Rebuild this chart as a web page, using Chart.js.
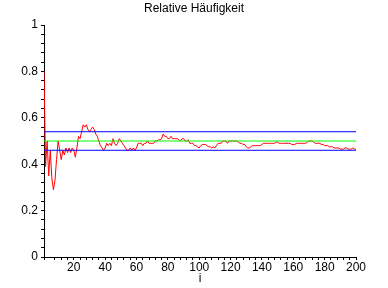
<!DOCTYPE html>
<html lang="de">
<head>
    <meta charset="UTF-8">
    <title>Relative Häufigkeit</title>
    <script src="https://cdn.jsdelivr.net/npm/chart.js"></script>
    <style>
        html, body { margin: 0; padding: 0; background: #fff; }
        #wrap { width: 388px; height: 288px; }
    </style>
</head>
<body>
    <div id="wrap"><canvas id="freq-chart"></canvas></div>
    <script>
        // relative frequency after i trials
        const relFreq = [
            0.80, 0.39, 0.50, 0.35, 0.46, 0.34, 0.29, 0.33, 0.42, 0.50,
            0.46, 0.42, 0.46, 0.44, 0.47, 0.45, 0.47, 0.45, 0.47, 0.46,
            0.43, 0.47, 0.52, 0.51, 0.54, 0.57, 0.56, 0.57, 0.55, 0.54,
            0.55, 0.56, 0.55, 0.53, 0.52, 0.50, 0.48, 0.47, 0.46, 0.47,
            0.49, 0.48, 0.49, 0.48, 0.51, 0.49, 0.48, 0.49, 0.51, 0.50,
            0.49, 0.48, 0.47, 0.46, 0.46, 0.47, 0.46, 0.47, 0.46, 0.47,
            0.49, 0.49, 0.49, 0.48, 0.49, 0.49, 0.50, 0.49, 0.49, 0.49,
            0.49, 0.50, 0.50, 0.505, 0.505, 0.51, 0.53, 0.52, 0.52, 0.51,
            0.51, 0.52, 0.51, 0.51, 0.51, 0.51, 0.505, 0.50, 0.51, 0.51,
            0.50, 0.50, 0.505, 0.49, 0.49, 0.49, 0.48, 0.48, 0.475, 0.47,
            0.48, 0.485, 0.485, 0.485, 0.48, 0.475, 0.475, 0.47, 0.475, 0.47,
            0.48, 0.49, 0.49, 0.49, 0.50, 0.50, 0.50, 0.49, 0.50, 0.50,
            0.50, 0.50, 0.50, 0.50, 0.495, 0.49, 0.49, 0.485, 0.485, 0.475,
            0.47, 0.47, 0.475, 0.48, 0.48, 0.48, 0.48, 0.48, 0.48, 0.485,
            0.49, 0.49, 0.49, 0.49, 0.49, 0.49, 0.49, 0.49, 0.495, 0.495,
            0.49, 0.49, 0.49, 0.49, 0.49, 0.49, 0.49, 0.49, 0.485, 0.485,
            0.485, 0.49, 0.49, 0.49, 0.49, 0.49, 0.49, 0.49, 0.495, 0.50,
            0.50, 0.50, 0.495, 0.49, 0.49, 0.49, 0.49, 0.485, 0.485, 0.48,
            0.48, 0.48, 0.475, 0.475, 0.475, 0.47, 0.47, 0.47, 0.47, 0.465,
            0.465, 0.465, 0.47, 0.47, 0.465, 0.465, 0.465, 0.47, 0.465, 0.465
        ];
        // horizontal reference lines
        const lineX = [1, 200];
        const upperLine = [0.54, 0.54];
        const middleLine = [0.5, 0.5];
        const lowerLine = [0.46, 0.46];

        const pts = relFreq.map((v, k) => ({ x: k + 1, y: v }));
        const hline = vals => vals.map((v, k) => ({ x: lineX[k], y: v }));

        const font = { family: 'Arial, "Liberation Sans", sans-serif', size: 12 };

        function lineSet(data, color) {
            return {
                data: data,
                borderColor: color,
                borderWidth: 1,
                pointRadius: 0,
                tension: 0,
                fill: false
            };
        }

        new Chart(document.getElementById('freq-chart'), {
            type: 'line',
            data: {
                datasets: [
                    lineSet(hline(upperLine), '#0000ff'),
                    lineSet(hline(middleLine), '#00ff00'),
                    lineSet(hline(lowerLine), '#0000ff'),
                    lineSet(pts, '#ff0000')
                ]
            },
            options: {
                responsive: true,
                maintainAspectRatio: false,
                animation: false,
                layout: { padding: 0 },
                plugins: {
                    legend: { display: false },
                    tooltip: { enabled: false },
                    title: {
                        display: true,
                        text: 'Relative Häufigkeit',
                        color: '#000',
                        font: Object.assign({}, font, { weight: 'normal' }),
                        padding: { top: 1, bottom: 9.6 }
                    }
                },
                scales: {
                    x: {
                        type: 'linear',
                        min: 1,
                        max: 200,
                        afterFit: s => { s.height = 31; },
                        grid: { drawOnChartArea: false, tickLength: 3, color: '#000' },
                        border: { color: '#000' },
                        ticks: {
                            stepSize: 4,
                            autoSkip: false,
                            maxRotation: 0,
                            padding: 0,
                            color: '#000',
                            font: font,
                            callback: v => (v % 20 === 0 ? String(v) : '')
                        },
                        title: {
                            display: true,
                            text: 'i',
                            color: '#000',
                            font: font,
                            padding: { top: 0, bottom: 2 }
                        }
                    },
                    y: {
                        min: 0,
                        max: 1,
                        afterFit: s => { s.width = 44; },
                        grid: { drawOnChartArea: false, tickLength: 3, color: '#000' },
                        border: { color: '#000' },
                        ticks: {
                            stepSize: 0.04,
                            autoSkip: false,
                            padding: 3,
                            color: '#000',
                            font: font,
                            callback: v => {
                                const n = Math.round(v * 100);
                                return n % 20 === 0 ? String(n / 100) : '';
                            }
                        }
                    },
                    // empty right axis, only to leave the blank strip on the right
                    spacer: {
                        position: 'right',
                        afterFit: s => { s.width = 32; },
                        grid: { display: false },
                        border: { display: false },
                        ticks: { display: false }
                    }
                }
            }
        });
    </script>
</body>
</html>
